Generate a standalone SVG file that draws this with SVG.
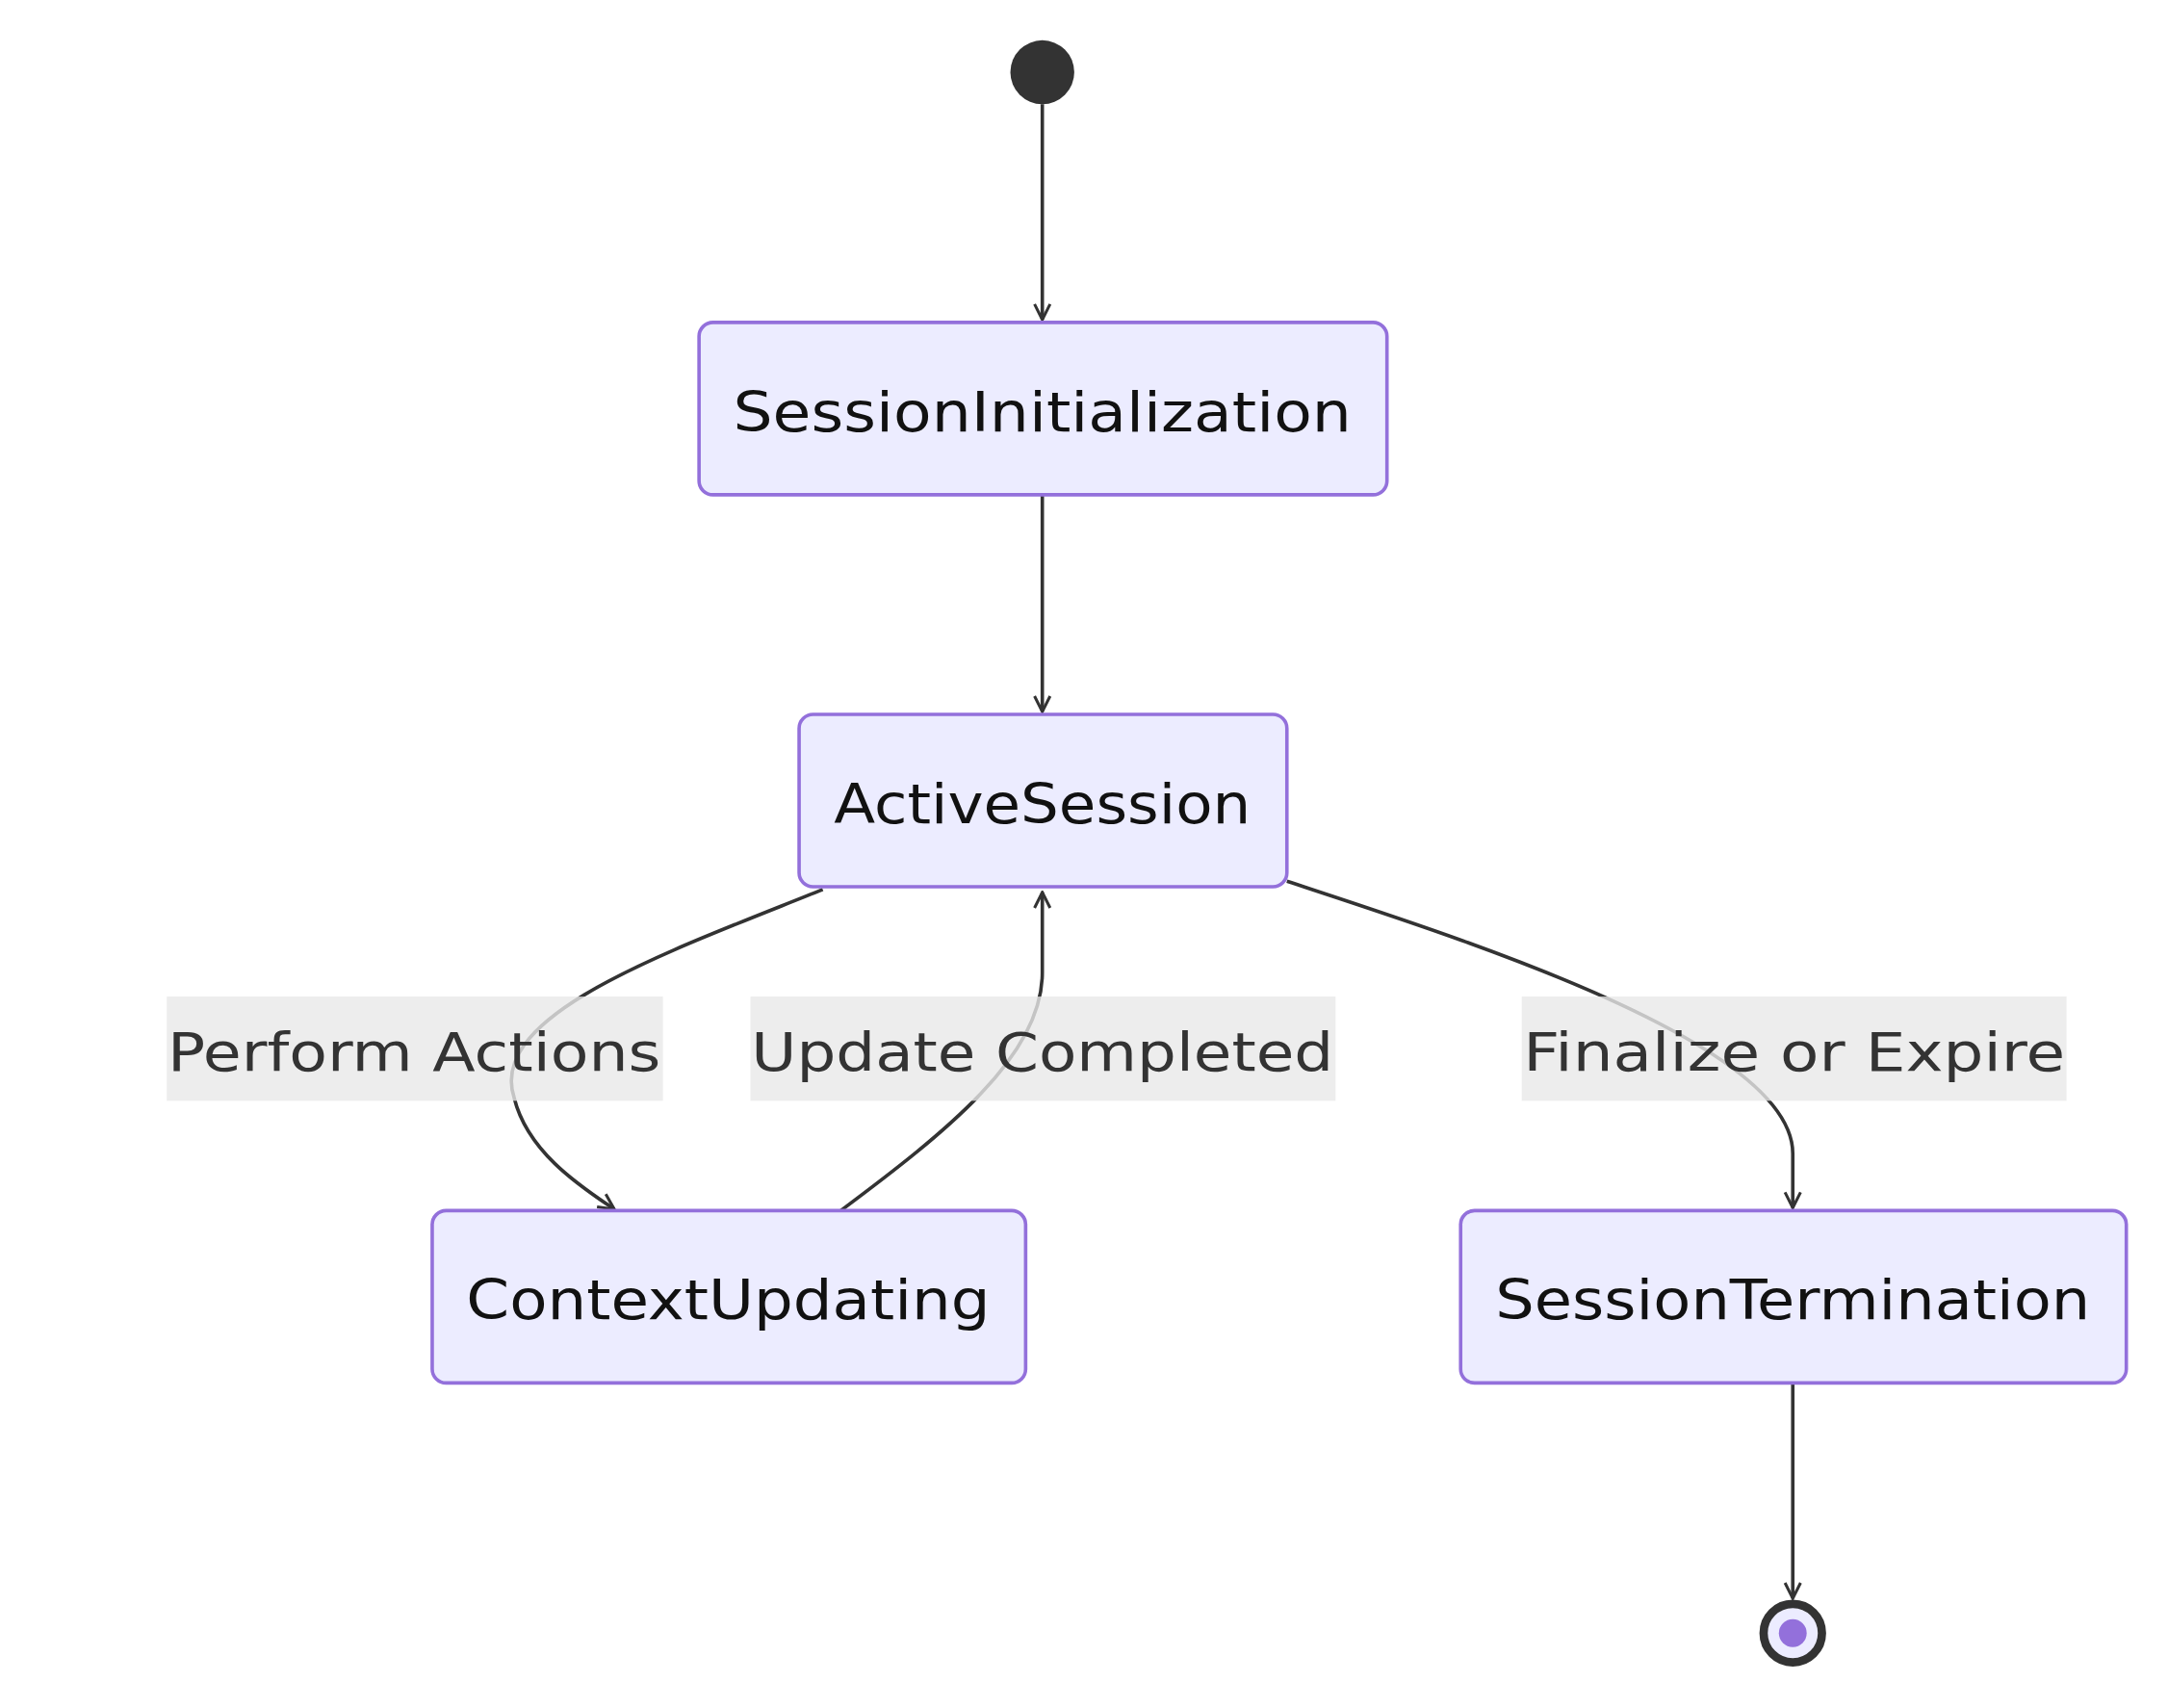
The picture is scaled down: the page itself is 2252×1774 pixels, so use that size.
<svg xmlns="http://www.w3.org/2000/svg" width="2252" height="1774" viewBox="0 0 2252 1774">
<style>
.node rect{fill:#ECECFF;stroke:#9370DB;stroke-width:2.5}
.node text{font-family:"DejaVu Sans",sans-serif;font-size:40px;fill:#111;text-anchor:middle}
.edge{fill:none;stroke:#333;stroke-width:2.5}
.lbl rect{fill:#e8e8e8;opacity:0.8}
.lbl text{font-family:"DejaVu Sans",sans-serif;font-size:38px;fill:#333;text-anchor:middle}
</style>
<defs>
<marker id="arr" viewBox="0 0 20 20" refX="18" refY="10" markerWidth="14" markerHeight="14" markerUnits="userSpaceOnUse" orient="auto">
<path d="M2,2 L18,10 L2,18" fill="none" stroke="#333" stroke-width="3"/>
</marker>
</defs>
<g transform="scale(1.4436)">
<g id="connectors">
<path class="edge" d="M750,75 L750,230" marker-end="url(#arr)"/>
<path class="edge" d="M750,356 L750,512" marker-end="url(#arr)"/>
<path class="edge" d="M592,640 C480,685 350,730 370,790 C380,830 420,855 442,870" marker-end="url(#arr)"/>
<path class="edge" d="M605,871 C680,815 750,760 750,700 L750,642" marker-end="url(#arr)"/>
<path class="edge" d="M926,634 C1050,675 1290,750 1290,830 L1290,869" marker-end="url(#arr)"/>
<path class="edge" d="M1290,995 L1290,1150" marker-end="url(#arr)"/>
</g>
<g id="labels">
<g class="lbl"><rect x="120" y="717" width="357" height="75"/><text x="298" y="770" textLength="355" lengthAdjust="spacingAndGlyphs">Perform Actions</text></g>
<g class="lbl"><rect x="540" y="717" width="421" height="75"/><text x="750" y="770" textLength="419" lengthAdjust="spacingAndGlyphs">Update Completed</text></g>
<g class="lbl"><rect x="1095" y="717" width="392" height="75"/><text x="1291" y="770" textLength="390" lengthAdjust="spacingAndGlyphs">Finalize or Expire</text></g>
</g>
<g id="start"><circle cx="750" cy="52" r="23" fill="#333"/></g>
<g id="SessionInitialization" class="node"><rect x="503" y="232" width="495" height="124" rx="10"/><text x="750" y="310" textLength="445" lengthAdjust="spacingAndGlyphs">SessionInitialization</text></g>
<g id="ActiveSession" class="node"><rect x="575" y="514" width="351" height="124" rx="10"/><text x="750" y="592" textLength="300" lengthAdjust="spacingAndGlyphs">ActiveSession</text></g>
<g id="ContextUpdating" class="node"><rect x="311" y="871" width="427" height="124" rx="10"/><text x="524" y="949" textLength="377" lengthAdjust="spacingAndGlyphs">ContextUpdating</text></g>
<g id="SessionTermination" class="node"><rect x="1051" y="871" width="479" height="124" rx="10"/><text x="1290" y="949" textLength="428" lengthAdjust="spacingAndGlyphs">SessionTermination</text></g>
<g id="end"><circle cx="1290" cy="1175" r="21" fill="#ECECFF" stroke="#333" stroke-width="6"/><circle cx="1290" cy="1175" r="10" fill="#9370DB"/></g>
</g>
</svg>
